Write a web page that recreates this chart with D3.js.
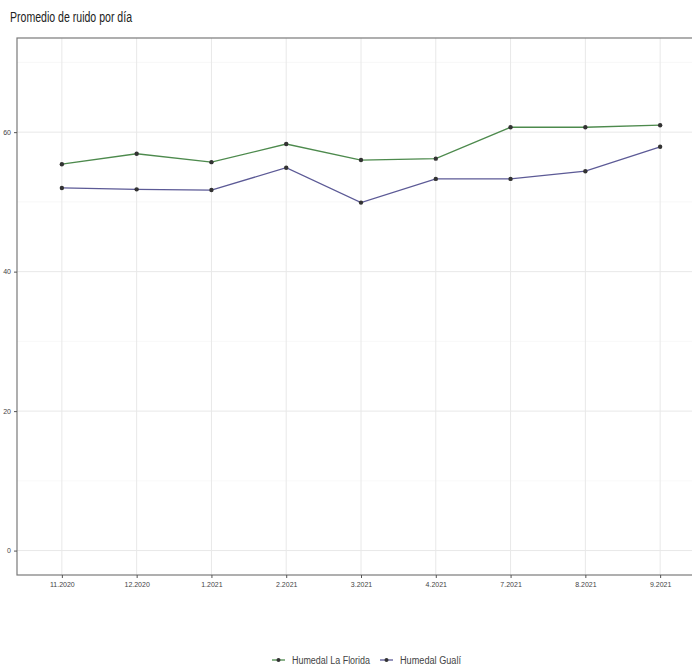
<!DOCTYPE html>
<html>
<head>
<meta charset="utf-8">
<script src="https://cdn.jsdelivr.net/npm/d3@7"></script>
<style>
  body { margin: 0; background: #fff; }
  text { font-family: "Liberation Sans", sans-serif; }
</style>
</head>
<body>
<script>
// months on the x axis
const months = ["11.2020", "12.2020", "1.2021", "2.2021", "3.2021", "4.2021", "7.2021", "8.2021", "9.2021"];
const seriesNames = ["Humedal La Florida", "Humedal Gualí"];
const florida = [55.4, 56.9, 55.7, 58.3, 56.0, 56.2, 60.7, 60.7, 61.0];
const guali = [52.0, 51.8, 51.7, 54.9, 49.9, 53.3, 53.3, 54.4, 57.9];
const yTicks = [0, 20, 40, 60];
const colors = ["#4d8a4d", "#5c5a96"];

const width = 692, height = 670;
const margin = {top: 38, right: -13, bottom: 95, left: 17};

const svg = d3.select("body").append("svg")
    .attr("width", width)
    .attr("height", height);

// discrete axis with ggplot-like padding
const x = d3.scalePoint()
    .domain(months)
    .range([margin.left, width - margin.right])
    .padding(0.6);

const y = d3.scaleLinear()
    .domain([-3.5, 73.5])
    .range([height - margin.bottom, margin.top]);

const g = svg.append("g");

        //grid lines, minor first
const minor = [10, 30, 50, 70];
g.selectAll(".minor").data(minor).enter().append("line")
    .attr("x1", margin.left).attr("x2", width)
    .attr("y1", d => y(d)).attr("y2", d => y(d))
    .attr("stroke", "#f3f3f3").attr("stroke-width", 0.6);
g.selectAll(".major").data(yTicks).enter().append("line")
    .attr("x1", margin.left).attr("x2", width)
    .attr("y1", d => y(d)).attr("y2", d => y(d))
    .attr("stroke", "#e8e8e8").attr("stroke-width", 1);
g.selectAll(".vgrid").data(months).enter().append("line")
    .attr("x1", d => x(d)).attr("x2", d => x(d))
    .attr("y1", margin.top).attr("y2", height - margin.bottom)
    .attr("stroke", "#e8e8e8").attr("stroke-width", 1);

        //panel border
svg.append("rect")
    .attr("x", margin.left).attr("y", margin.top)
    .attr("width", width - margin.right - margin.left)
    .attr("height", height - margin.bottom - margin.top)
    .attr("fill", "none").attr("stroke", "#7a7a7a").attr("stroke-width", 1.2);

        //axes
const yAxis = svg.append("g")
    .attr("transform", `translate(${margin.left},0)`)
    .call(d3.axisLeft(y).tickValues(yTicks).tickSize(3).tickPadding(3));
const xAxis = svg.append("g")
    .attr("transform", `translate(0,${height - margin.bottom})`)
    .call(d3.axisBottom(x).tickSize(3).tickPadding(4));
[yAxis, xAxis].forEach(a => {
    a.select(".domain").remove();
    a.selectAll("line").attr("stroke", "#555");
    a.selectAll("text").attr("fill", "#444").style("font-size", "7px");
});

        //lines and points
const line = d3.line()
    .x((d, i) => x(months[i]))
    .y(d => y(d));

[florida, guali].forEach((vals, k) => {
    svg.append("path")
        .datum(vals)
        .attr("d", line)
        .attr("fill", "none")
        .attr("stroke", colors[k])
        .attr("stroke-width", 1.3);
    svg.selectAll(".pt" + k)
        .data(vals)
        .enter().append("circle")
        .attr("cx", (d, i) => x(months[i]))
        .attr("cy", d => y(d))
        .attr("r", 2.2)
        .attr("fill", "#333");
});

        //title, squeezed like the narrow original
svg.append("text")
    .attr("x", 10).attr("y", 22)
    .style("font-size", "14px")
    .attr("fill", "#222")
    .attr("textLength", 122)
    .attr("lengthAdjust", "spacingAndGlyphs")
    .text("Promedio de ruido por día");

        //legend at the bottom
const legendWidths = [78, 61];
const legend = svg.append("g").attr("transform", "translate(272,660)");
let lx = 0;
seriesNames.forEach((name, k) => {
    const item = legend.append("g").attr("transform", `translate(${lx},0)`);
    item.append("line")
        .attr("x1", 0).attr("x2", 13)
        .attr("stroke", colors[k]).attr("stroke-width", 1.3);
    item.append("circle").attr("cx", 6.5).attr("r", 2).attr("fill", "#333");
    item.append("text")
        .attr("x", 20).attr("y", 3.5)
        .style("font-size", "10px")
        .attr("fill", "#444")
        .attr("textLength", legendWidths[k])
        .attr("lengthAdjust", "spacingAndGlyphs")
        .text(name);
    lx += 20 + legendWidths[k] + 10;
});
</script>
</body>
</html>
